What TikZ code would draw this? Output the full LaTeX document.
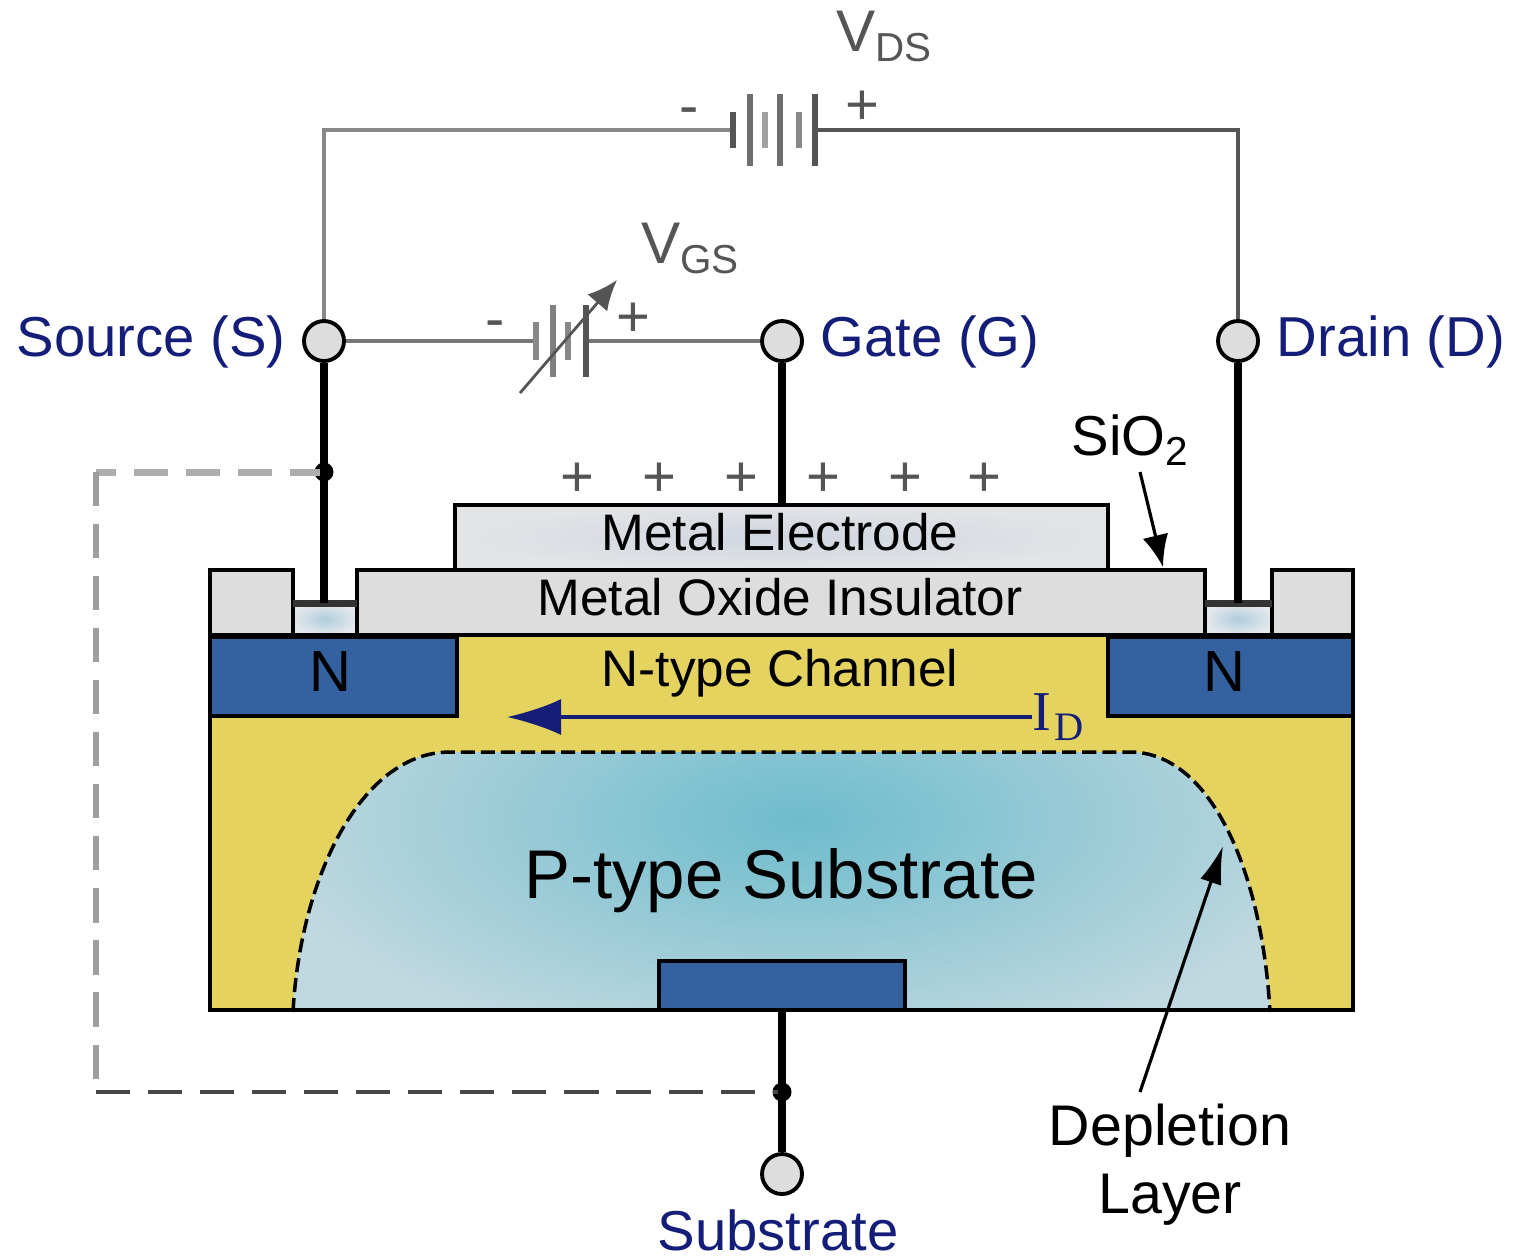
\documentclass[tikz,border=0pt]{standalone}
\usepackage{fontspec}
\setmainfont{Liberation Sans}
\newfontfamily\idfont{Liberation Serif}
\usetikzlibrary{arrows.meta}
\definecolor{mynavy}{RGB}{20,30,120}
\definecolor{mygray}{RGB}{85,85,85}
\definecolor{myyellow}{RGB}{229,211,96}
\definecolor{myblue}{RGB}{52,98,160}
\definecolor{myoxide}{RGB}{221,221,221}
\definecolor{myteal}{RGB}{110,188,204}
\definecolor{mypale}{RGB}{192,216,224}
\definecolor{mymetal}{RGB}{208,214,224}
\definecolor{mymetaledge}{RGB}{226,228,230}
\definecolor{mypad}{RGB}{175,205,220}
\definecolor{mypadedge}{RGB}{228,232,236}
\newcommand{\lowtext}[2]{#1\raisebox{-0.17em}{\fontsize{11.5}{12}\selectfont #2}}
\tikzset{
    layer/.style={draw=black, line width=1.1pt},
    terminal/.style={circle, draw=black, fill=myoxide, line width=1.1pt, minimum size=40*0.01cm, inner sep=0pt},
    wire/.style={draw=mygray, line width=1.1pt},
    lead/.style={draw=black, line width=2.3pt},
    plate/.style={draw=mygray, line width=1.5pt},
    junction/.style={circle, fill=black, minimum size=19*0.01cm, inner sep=0pt},
    pinlabel/.style={font=\fontsize{16}{18}\selectfont, text=mynavy, inner sep=0pt},
    caption/.style={font=\fontsize{14.6}{16}\selectfont, text=black},
    volt/.style={font=\fontsize{16.7}{18}\selectfont, text=mygray},
    sign/.style={font=\fontsize{16.5}{17}\selectfont, text=mygray, inner sep=0pt},
    tie/.style={line width=#1, dash pattern=on 9.7pt off 5.1pt},
}
\begin{document}
\begin{tikzpicture}[x=0.01cm, y=-0.01cm]
    \useasboundingbox (0, 0) rectangle (1519, 1259);
    % Semiconductor body with the depletion region.
    \fill[myyellow] (210, 635) rectangle (1353, 1010);
    \begin{scope}
        \clip (293, 1010) .. controls (300, 880) and (360, 752) .. (450, 752)
            -- (1130, 752) .. controls (1210, 752) and (1262, 870) .. (1270, 1010) -- cycle;
        \fill[mypale] (250, 700) rectangle (1300, 1010);
        \shade[inner color=myteal, outer color=mypale] (800, 820) ellipse (540 and 240);
    \end{scope}
    \draw[line width=1pt, dash pattern=on 4pt off 1.7pt] (293, 1012) .. controls (300, 880) and (360, 752) .. (450, 752)
        -- (1130, 752) .. controls (1210, 752) and (1262, 870) .. (1270, 1012);
    \draw[layer] (210, 635) rectangle (1353, 1010);
    % N wells and substrate contact.
    \draw[layer, fill=myblue] (210, 637) rectangle (457, 716);
    \draw[layer, fill=myblue] (1108, 637) rectangle (1353, 716);
    \draw[layer, fill=myblue] (659, 961) rectangle (905, 1010);
    % Oxide, metal and contact pads.
    \draw[layer, fill=myoxide] (210, 570) rectangle (293, 635);
    \draw[layer, fill=myoxide] (357, 570) rectangle (1205, 635);
    \draw[layer, fill=myoxide] (1272, 570) rectangle (1353, 635);
    \draw[layer, inner color=mymetal, outer color=mymetaledge] (455, 505) rectangle (1108, 570);
    \draw[layer, inner color=mypad, outer color=mypadedge] (293, 603) rectangle (357, 635);
    \draw[layer, inner color=mypad, outer color=mypadedge] (1205, 603) rectangle (1272, 635);
    \draw[mygray!60!black, line width=2pt] (293, 603) -- (357, 603);
    \draw[mygray!60!black, line width=2pt] (1205, 603) -- (1272, 603);
    % Terminals.
    \node[terminal] (source) at (324, 341) {};
    \node[terminal] (gate) at (782, 341) {};
    \node[terminal] (drain) at (1238, 341) {};
    \node[terminal] (bulk) at (782, 1174) {};
    \coordinate (sourcepad) at (324, 603);
    \coordinate (gatepad) at (782, 505);
    \coordinate (drainpad) at (1238, 603);
    \coordinate (bulkpad) at (782, 1010);
    % Body tie.
    \coordinate (tietop) at (96, 472);
    \coordinate (tiebottom) at (96, 1092);
    \node[junction] (sourcedot) at (324, 472) {};
    \node[junction] (bulkdot) at (782, 1092) {};
    \draw[tie=2pt, black!32] (sourcedot.center) -- (tietop);
    \draw[tie=1.9pt, black!38] (tietop) -- (tiebottom);
    \draw[tie=1.1pt, black!72] (tiebottom) -- (bulkdot.center);
    \draw[lead] (source) -- (sourcepad);
    \draw[lead] (gate) -- (gatepad);
    \draw[lead] (drain) -- (drainpad);
    \draw[lead] (bulkpad) -- (bulk);
    % Drain supply.
    \coordinate (dsminus) at (733, 130);
    \coordinate (dsplus) at (815, 130);
    \draw[wire, mygray!70] (source) -- (324, 130) -- (dsminus);
    \draw[wire] (dsplus) -- (1238, 130) -- (drain);
    \foreach \x/\h/\c in {733/18/100, 750/36/85, 765/18/55, 780/36/85, 799/18/70, 815/36/100} {
        \draw[plate, mygray!\c] (\x, 130-\h) -- (\x, 130+\h);
    }
    % Gate supply.
    \coordinate (gsminus) at (536, 341);
    \coordinate (gsplus) at (586, 341);
    \draw[wire, mygray!80, line width=1.4pt] (source) -- (gsminus);
    \draw[wire, mygray!80, line width=1.4pt] (gsplus) -- (gate);
    \foreach \x/\h/\c in {536/19/70, 553/36/75, 568/19/70, 586/36/100} {
        \draw[plate, mygray!\c] (\x, 341-\h) -- (\x, 341+\h);
    }
    \draw[mygray, line width=0.8pt, -{Latex[length=30*0.01cm, width=26*0.01cm]}] (520, 393) -- (617, 280);
    % Labels.
    \node[pinlabel] (sourcelabel) at (151, 342) {Source (S)};
    \node[pinlabel] (gatelabel) at (930, 342) {Gate (G)};
    \node[pinlabel] (drainlabel) at (1391, 342) {Drain (D)};
    \node[pinlabel] (bulklabel) at (778, 1230) {Substrate};
    \node[volt] (vds) at (884, 36) {\lowtext{V}{DS}};
    \node[volt] (vgs) at (690, 248) {\lowtext{V}{GS}};
    \node[sign] (dsneg) at (689, 117) {-};
    \node[sign] (dspos) at (862, 108) {+};
    \node[sign] (gsneg) at (495, 330) {-};
    \node[sign] (gspos) at (633, 320) {+};
    \foreach \x in {577, 659, 741, 823, 905, 984} {
        \node[sign] (charge\x) at (\x, 480) {+};
    }
    \node[caption] (electrode) at (780, 532) {Metal Electrode};
    \node[caption] (oxide) at (780, 597) {Metal Oxide Insulator};
    \node[caption] (channel) at (780, 673) {N-type Channel};
    \node[caption, font=\fontsize{16.5}{18}\selectfont] (leftwell) at (330, 672) {N};
    \node[caption, font=\fontsize{16.5}{18}\selectfont] (rightwell) at (1224, 672) {N};
    \node[font=\fontsize{19.6}{22}\selectfont] (substrate) at (781, 881) {P-type Substrate};
    \node[caption, font=\fontsize{16}{18}\selectfont] (sio) at (1130, 440) {\lowtext{SiO}{2}};
    \node[caption, font=\fontsize{16.3}{18}\selectfont] (depletion) at (1170, 1131) {Depletion};
    \node[caption, font=\fontsize{16.3}{18}\selectfont] (layerlabel) at (1170, 1200) {Layer};
    % Current and pointer arrows.
    \node[anchor=west, text=mynavy, font=\idfont\fontsize{16}{18}\selectfont, inner sep=0pt] (id) at (1032, 717) {\lowtext{I\hspace{0.05em}}{D}};
    \coordinate (idtip) at (507, 717);
    \draw[mynavy, line width=0.9pt, -{Latex[length=54*0.01cm, width=36*0.01cm]}] (id.west) -- (idtip);
    \coordinate (sioanchor) at (1140, 472);
    \coordinate (siotip) at (1163, 567);
    \coordinate (depanchor) at (1140, 1092);
    \coordinate (deptip) at (1223, 846);
    \draw[black, line width=0.9pt, -{Latex[length=32*0.01cm, width=26*0.01cm]}] (sioanchor) -- (siotip);
    \draw[black, line width=0.9pt, -{Latex[length=38*0.01cm, width=22*0.01cm]}] (depanchor) -- (deptip);
\end{tikzpicture}
\end{document}
